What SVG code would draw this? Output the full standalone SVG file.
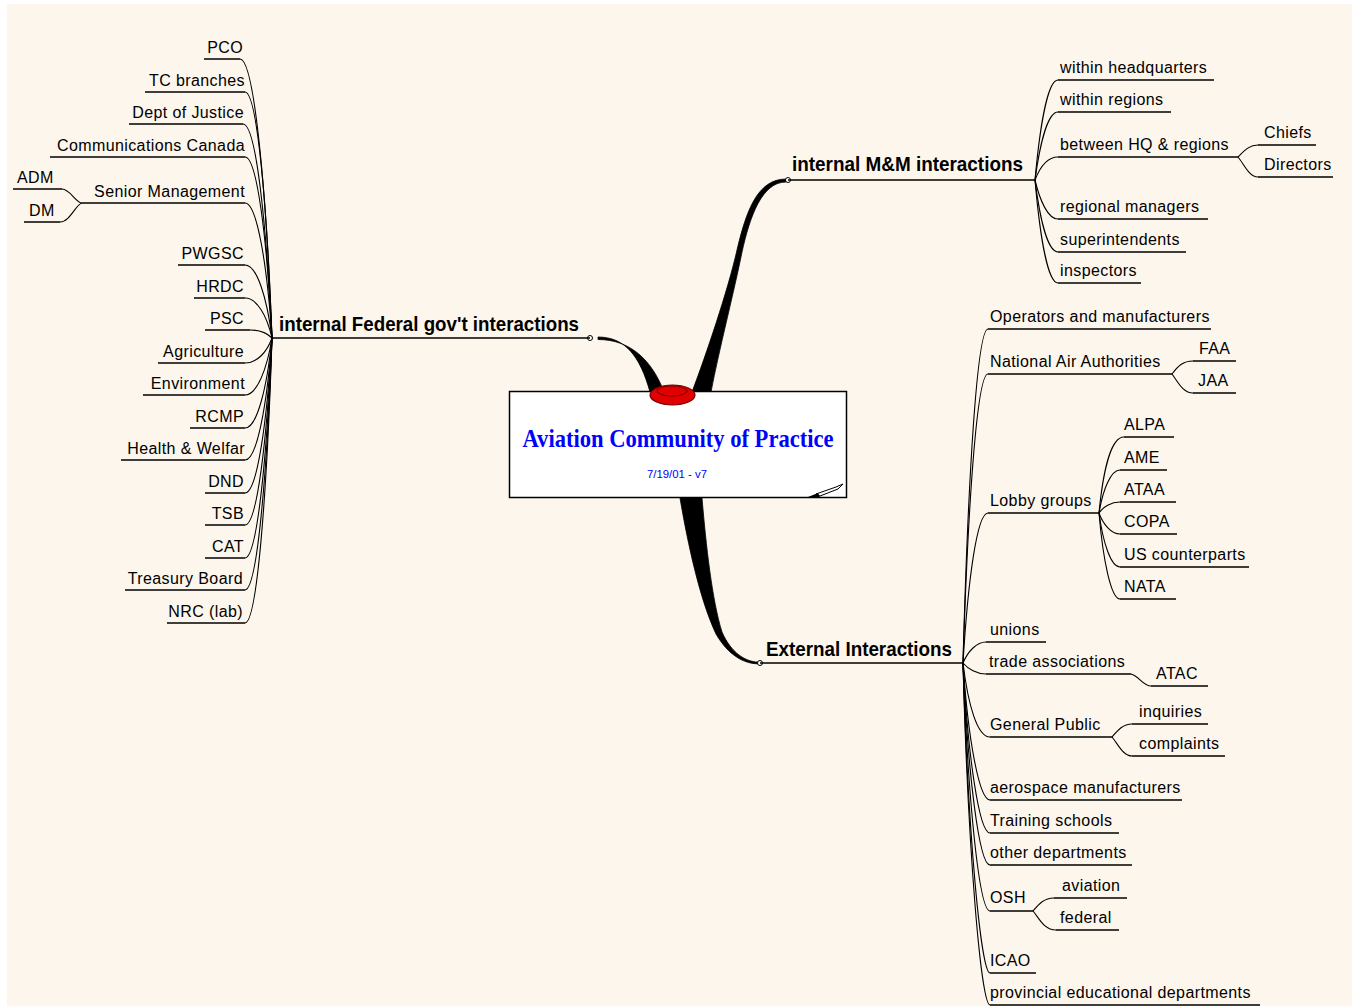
<svg xmlns="http://www.w3.org/2000/svg" width="1352" height="1006" viewBox="0 0 1352 1006">
<style>
.t{font-family:"Liberation Sans",Arial,sans-serif;font-size:16px;letter-spacing:0.4px;fill:#000}
.e{text-anchor:end}
.m{font-family:"Liberation Sans",Arial,sans-serif;font-size:21px;font-weight:bold;fill:#000}
.u{stroke:#000;stroke-width:1.5;fill:none}
.c{stroke:#000;stroke-width:1.1;fill:none}
.w{fill:#000;stroke:#000;stroke-width:0.8}
.k{fill:#fff;stroke:#000;stroke-width:1}
</style>
<rect width="1352" height="1006" fill="#fff"/>
<rect x="7" y="4" width="1345" height="1002" fill="#fdf6ec"/>
<g id="connectors">
<path class="w" d="M598,337 C625,337 640,356 650,392 L664,392 C652,360 630,339.5 598,339.5 Z"/>
<path class="w" d="M786,179 C757,179 746,212 737,250 C728,290 706,355 692,392 L711,392 C719,350 734,292 742,252 C750,216 762,182 786,182 Z"/>
<path class="w" d="M680,498 C688,545 700,600 716,634 C728,655 744,663.8 758,663.8 L758,662 C746,662 731,653 722,632 C712,600 706,545 702,498 Z"/>
<path class="c" d="M272,338 C266,185 254,59 240,59"/>
<path class="c" d="M272,338 C267,203 257,92 245,92"/>
<path class="c" d="M272,338 C266,220 256,124 243,124"/>
<path class="c" d="M272,338 C267,238 257,157 245,157"/>
<path class="c" d="M272,338 C267,264 257,203 245,203"/>
<path class="c" d="M272,338 C267,298 257,265 245,265"/>
<path class="c" d="M272,338 C267,316 257,298 245,298"/>
<path class="c" d="M272,338 C268,334 260,330 250,330"/>
<path class="c" d="M272,338 C267,352 257,363 245,363"/>
<path class="c" d="M272,338 C267,369 257,395 245,395"/>
<path class="c" d="M272,338 C267,388 257,428 245,428"/>
<path class="c" d="M272,338 C267,405 257,460 245,460"/>
<path class="c" d="M272,338 C267,423 257,493 245,493"/>
<path class="c" d="M272,338 C267,441 257,525 245,525"/>
<path class="c" d="M272,338 C267,459 257,558 245,558"/>
<path class="c" d="M272,338 C267,477 257,590 245,590"/>
<path class="c" d="M272,338 C267,495 257,623 245,623"/>
<path class="c" d="M82,203 C76,203 70,189 62,189"/>
<path class="c" d="M82,203 C76,204 70,222 60,222"/>
<path class="c" d="M1035,180 C1040,125 1048,80 1058,80"/>
<path class="c" d="M1035,180 C1040,143 1048,112 1058,112"/>
<path class="c" d="M1035,180 C1040,167 1048,157 1058,157"/>
<path class="c" d="M1035,180 C1040,201 1048,219 1058,219"/>
<path class="c" d="M1035,180 C1040,220 1048,252 1058,252"/>
<path class="c" d="M1035,180 C1040,237 1048,283 1058,283"/>
<path class="c" d="M1238,157 C1244,151 1249,145 1258,145"/>
<path class="c" d="M1238,157 C1244,164 1249,177 1258,177"/>
<path class="c" d="M963,663 C968,479 977,329 988,329"/>
<path class="c" d="M963,663 C968,504 977,374 988,374"/>
<path class="c" d="M963,663 C968,580 977,513 988,513"/>
<path class="c" d="M963,663 C968,651 977,642 986,642"/>
<path class="c" d="M963,663 C968,669 977,674 986,674"/>
<path class="c" d="M963,663 C968,704 977,737 990,737"/>
<path class="c" d="M963,663 C968,738 979,800 990,800"/>
<path class="c" d="M963,663 C968,756 979,833 990,833"/>
<path class="c" d="M963,663 C968,774 979,865 990,865"/>
<path class="c" d="M963,663 C968,799 979,911 990,911"/>
<path class="c" d="M963,663 C968,834 981,973 990,973"/>
<path class="c" d="M963,663 C968,851 981,1005 990,1005"/>
<path class="c" d="M1172,374 C1178,366 1183,361 1193,361"/>
<path class="c" d="M1172,374 C1178,382 1183,393 1193,393"/>
<path class="c" d="M1099,513 C1103,471 1111,437 1124,437"/>
<path class="c" d="M1099,513 C1103,489 1111,470 1120,470"/>
<path class="c" d="M1099,513 C1103,507 1111,502 1120,502"/>
<path class="c" d="M1099,513 C1103,524 1111,534 1120,534"/>
<path class="c" d="M1099,513 C1103,543 1111,567 1120,567"/>
<path class="c" d="M1099,513 C1103,560 1111,599 1120,599"/>
<path class="c" d="M1131,674 C1139,676 1143,686 1151,686"/>
<path class="c" d="M1112,737 C1118,730 1123,724 1132,724"/>
<path class="c" d="M1112,737 C1118,744 1123,756 1132,756"/>
<path class="c" d="M1033,911 C1039,904 1044,898 1054,898"/>
<path class="c" d="M1033,911 C1039,918 1044,930 1056,930"/>
<circle class="k" cx="590" cy="338" r="2.5"/>
<circle class="k" cx="788" cy="180" r="2.5"/>
<circle class="k" cx="760" cy="663" r="2.5"/>
</g>
<g id="center">
<rect x="509.5" y="391.5" width="337" height="106" fill="#fff" stroke="#000" stroke-width="1.5"/>
<ellipse cx="672.5" cy="395" rx="22.5" ry="10" fill="#e00000" stroke="#700" stroke-width="1.2"/>
<ellipse cx="672" cy="391" rx="15" ry="5" fill="none" stroke="#700" stroke-width="1"/>
<text x="678" y="447" text-anchor="middle" textLength="311" lengthAdjust="spacingAndGlyphs" font-family="Liberation Serif,'Times New Roman',serif" font-size="25" font-weight="bold" fill="#0000ff">Aviation Community of Practice</text>
<text x="677" y="478" text-anchor="middle" textLength="60" lengthAdjust="spacingAndGlyphs" font-family="Liberation Sans,Arial,sans-serif" font-size="11" fill="#0000ff">7/19/01 - v7</text>
<path d="M816,494 L836,487 L843,484 L838,489 L820,496 Z" fill="#fff" stroke="#000" stroke-width="1"/>
<path d="M808,497 L818,493 L820,497 Z" fill="#000"/>
</g>
<g id="n-federal">
<text class="m" x="279" y="331" textLength="300" lengthAdjust="spacingAndGlyphs">internal Federal gov't interactions</text>
<line class="u" x1="272" y1="338" x2="590" y2="338"/>
</g>
<g id="n-mm">
<text class="m" x="792" y="171" textLength="231" lengthAdjust="spacingAndGlyphs">internal M&amp;M interactions</text>
<line class="u" x1="788" y1="180" x2="1035" y2="180"/>
</g>
<g id="n-external">
<text class="m" x="766" y="656" textLength="186" lengthAdjust="spacingAndGlyphs">External Interactions</text>
<line class="u" x1="760" y1="663" x2="963" y2="663"/>
</g>
<g id="n-pco"><text class="t e" x="243" y="53">PCO</text><line class="u" x1="204" y1="59" x2="240" y2="59"/></g>
<g id="n-tc"><text class="t e" x="245" y="86">TC branches</text><line class="u" x1="145" y1="92" x2="245" y2="92"/></g>
<g id="n-justice"><text class="t e" x="244" y="118">Dept of Justice</text><line class="u" x1="129" y1="124" x2="243" y2="124"/></g>
<g id="n-comm"><text class="t e" x="245" y="151">Communications Canada</text><line class="u" x1="50" y1="157" x2="245" y2="157"/></g>
<g id="n-senior"><text class="t e" x="245" y="197">Senior Management</text><line class="u" x1="82" y1="203" x2="245" y2="203"/></g>
<g id="n-adm"><text class="t" x="17" y="183">ADM</text><line class="u" x1="13" y1="189" x2="62" y2="189"/></g>
<g id="n-dm"><text class="t" x="29" y="216">DM</text><line class="u" x1="24" y1="222" x2="60" y2="222"/></g>
<g id="n-pwgsc"><text class="t e" x="244" y="259">PWGSC</text><line class="u" x1="178" y1="265" x2="245" y2="265"/></g>
<g id="n-hrdc"><text class="t e" x="244" y="292">HRDC</text><line class="u" x1="194" y1="298" x2="245" y2="298"/></g>
<g id="n-psc"><text class="t e" x="244" y="324">PSC</text><line class="u" x1="205" y1="330" x2="250" y2="330"/></g>
<g id="n-agri"><text class="t e" x="244" y="357">Agriculture</text><line class="u" x1="158" y1="363" x2="245" y2="363"/></g>
<g id="n-env"><text class="t e" x="245" y="389">Environment</text><line class="u" x1="143" y1="395" x2="245" y2="395"/></g>
<g id="n-rcmp"><text class="t e" x="244" y="422">RCMP</text><line class="u" x1="190" y1="428" x2="245" y2="428"/></g>
<g id="n-health"><text class="t e" x="245" y="454">Health &amp; Welfar</text><line class="u" x1="121" y1="460" x2="245" y2="460"/></g>
<g id="n-dnd"><text class="t e" x="244" y="487">DND</text><line class="u" x1="205" y1="493" x2="245" y2="493"/></g>
<g id="n-tsb"><text class="t e" x="244" y="519">TSB</text><line class="u" x1="205" y1="525" x2="245" y2="525"/></g>
<g id="n-cat"><text class="t e" x="244" y="552">CAT</text><line class="u" x1="205" y1="558" x2="245" y2="558"/></g>
<g id="n-treasury"><text class="t e" x="243" y="584">Treasury Board</text><line class="u" x1="125" y1="590" x2="245" y2="590"/></g>
<g id="n-nrc"><text class="t e" x="243" y="617">NRC (lab)</text><line class="u" x1="167" y1="623" x2="245" y2="623"/></g>
<g id="n-hq"><text class="t" x="1060" y="73">within headquarters</text><line class="u" x1="1058" y1="80" x2="1214" y2="80"/></g>
<g id="n-regions"><text class="t" x="1060" y="105">within regions</text><line class="u" x1="1058" y1="112" x2="1171" y2="112"/></g>
<g id="n-between"><text class="t" x="1060" y="150">between HQ &amp; regions</text><line class="u" x1="1058" y1="157" x2="1238" y2="157"/></g>
<g id="n-chiefs"><text class="t" x="1264" y="138">Chiefs</text><line class="u" x1="1258" y1="145" x2="1316" y2="145"/></g>
<g id="n-directors"><text class="t" x="1264" y="170">Directors</text><line class="u" x1="1258" y1="177" x2="1333" y2="177"/></g>
<g id="n-regmgr"><text class="t" x="1060" y="212">regional managers</text><line class="u" x1="1058" y1="219" x2="1208" y2="219"/></g>
<g id="n-super"><text class="t" x="1060" y="245">superintendents</text><line class="u" x1="1058" y1="252" x2="1186" y2="252"/></g>
<g id="n-insp"><text class="t" x="1060" y="276">inspectors</text><line class="u" x1="1058" y1="283" x2="1141" y2="283"/></g>
<g id="n-operators"><text class="t" x="990" y="322">Operators and manufacturers</text><line class="u" x1="988" y1="329" x2="1211" y2="329"/></g>
<g id="n-naa"><text class="t" x="990" y="367">National Air Authorities</text><line class="u" x1="988" y1="374" x2="1172" y2="374"/></g>
<g id="n-faa"><text class="t" x="1199" y="354">FAA</text><line class="u" x1="1193" y1="361" x2="1236" y2="361"/></g>
<g id="n-jaa"><text class="t" x="1198" y="386">JAA</text><line class="u" x1="1193" y1="393" x2="1236" y2="393"/></g>
<g id="n-lobby"><text class="t" x="990" y="506">Lobby groups</text><line class="u" x1="988" y1="513" x2="1099" y2="513"/></g>
<g id="n-alpa"><text class="t" x="1124" y="430">ALPA</text><line class="u" x1="1124" y1="437" x2="1174" y2="437"/></g>
<g id="n-ame"><text class="t" x="1124" y="463">AME</text><line class="u" x1="1120" y1="470" x2="1167" y2="470"/></g>
<g id="n-ataa"><text class="t" x="1124" y="495">ATAA</text><line class="u" x1="1120" y1="502" x2="1176" y2="502"/></g>
<g id="n-copa"><text class="t" x="1124" y="527">COPA</text><line class="u" x1="1120" y1="534" x2="1177" y2="534"/></g>
<g id="n-us"><text class="t" x="1124" y="560">US counterparts</text><line class="u" x1="1120" y1="567" x2="1249" y2="567"/></g>
<g id="n-nata"><text class="t" x="1124" y="592">NATA</text><line class="u" x1="1120" y1="599" x2="1176" y2="599"/></g>
<g id="n-unions"><text class="t" x="990" y="635">unions</text><line class="u" x1="986" y1="642" x2="1046" y2="642"/></g>
<g id="n-trade"><text class="t" x="989" y="667">trade associations</text><line class="u" x1="986" y1="674" x2="1131" y2="674"/></g>
<g id="n-atac"><text class="t" x="1156" y="679">ATAC</text><line class="u" x1="1151" y1="686" x2="1208" y2="686"/></g>
<g id="n-public"><text class="t" x="990" y="730">General Public</text><line class="u" x1="990" y1="737" x2="1112" y2="737"/></g>
<g id="n-inquiries"><text class="t" x="1139" y="717">inquiries</text><line class="u" x1="1132" y1="724" x2="1208" y2="724"/></g>
<g id="n-complaints"><text class="t" x="1139" y="749">complaints</text><line class="u" x1="1132" y1="756" x2="1225" y2="756"/></g>
<g id="n-aero"><text class="t" x="990" y="793">aerospace manufacturers</text><line class="u" x1="990" y1="800" x2="1182" y2="800"/></g>
<g id="n-training"><text class="t" x="990" y="826">Training schools</text><line class="u" x1="990" y1="833" x2="1119" y2="833"/></g>
<g id="n-other"><text class="t" x="990" y="858">other departments</text><line class="u" x1="990" y1="865" x2="1132" y2="865"/></g>
<g id="n-osh"><text class="t" x="990" y="903">OSH</text><line class="u" x1="990" y1="911" x2="1033" y2="911"/></g>
<g id="n-aviation"><text class="t" x="1062" y="891">aviation</text><line class="u" x1="1054" y1="898" x2="1127" y2="898"/></g>
<g id="n-federal"><text class="t" x="1060" y="923">federal</text><line class="u" x1="1056" y1="930" x2="1119" y2="930"/></g>
<g id="n-icao"><text class="t" x="990" y="966">ICAO</text><line class="u" x1="990" y1="973" x2="1036" y2="973"/></g>
<g id="n-prov"><text class="t" x="990" y="998">provincial educational departments</text><line class="u" x1="990" y1="1005" x2="1260" y2="1005"/></g>
</svg>
